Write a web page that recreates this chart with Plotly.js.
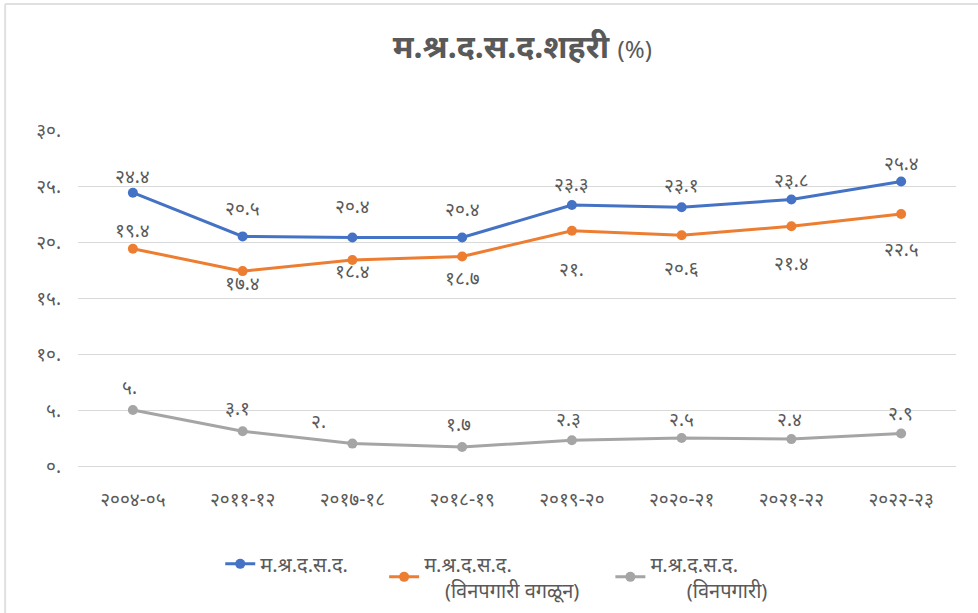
<!DOCTYPE html>
<html>
<head>
<meta charset="utf-8">
<script src="https://cdn.plot.ly/plotly-3.0.1.min.js"></script>
<style>html,body{margin:0;padding:0;background:#fff;}#chart{width:978px;height:613px;}</style>
</head>
<body>
<div id="chart"></div>
<script>
// ---- data ----
var categories = ['२००४-०५','२०११-१२','२०१७-१८','२०१८-१९','२०१९-२०','२०२०-२१','२०२१-२२','२०२२-२३'];
var seriesNames = [
  'म.श्र.द.स.द.',
  'म.श्र.द.स.द.<br>&nbsp;&nbsp;&nbsp;&nbsp;(विनपगारी वगळून)',
  'म.श्र.द.स.द.<br>&nbsp;&nbsp;&nbsp;&nbsp;&nbsp;&nbsp;&nbsp;(विनपगारी)'
];
var lfprTotal = [24.4, 20.5, 20.4, 20.4, 23.3, 23.1, 23.8, 25.4];
var lfprExclUnpaid = [19.4, 17.4, 18.4, 18.7, 21.0, 20.6, 21.4, 22.5];
var lfprUnpaid = [5.0, 3.1, 2.0, 1.7, 2.3, 2.5, 2.4, 2.9];
var yTicks = [0, 5, 10, 15, 20, 25, 30];

// ---- styles ----
var colors = ['#4472C4', '#ED7D31', '#A5A5A5'];
var labelShiftY = [
  [17, 28, 32, 29, 21, 22, 19, 19],
  [19, -12, -11, -21, -38, -33, -37, -35],
  [23, 23, 23, 23, 21, 19, 20, 21]
];
var labelShiftX = [
  [0, 0, 0, 0, 0, 0, 0, 0],
  [0, 0, 0, 0, 0, 0, 0, 0],
  [-3, -5, -34, -4, -3, 0, -2, -1]
];
var legendPad = ['&nbsp;&nbsp;&nbsp;&nbsp;&nbsp;&nbsp;', '&nbsp;&nbsp;&nbsp;&nbsp;&nbsp;', ''];

var devDigits = ['०','१','२','३','४','५','६','७','८','९'];
function toDeva(n) {
  var s = Number.isInteger(n) ? (n + '.') : n.toFixed(1);
  return s.replace(/[0-9]/g, function (d) { return devDigits[+d]; });
}

var allSeries = [lfprTotal, lfprExclUnpaid, lfprUnpaid];
var traces = allSeries.map(function (vals, i) {
  return {
    type: 'scatter', mode: 'lines+markers',
    x: categories, y: vals, name: seriesNames[i] + legendPad[i],
    line: {color: colors[i], width: 3},
    marker: {color: colors[i], size: 10},
    hoverinfo: 'skip'
  };
});

var fam = 'Noto Sans, sans-serif';
var annotations = [];
allSeries.forEach(function (vals, i) {
  vals.forEach(function (v, j) {
    annotations.push({
      xref: 'x', yref: 'y', x: categories[j], y: v,
      text: toDeva(v), showarrow: false,
      yshift: labelShiftY[i][j], xshift: labelShiftX[i][j],
      font: {family: fam, size: 19, color: '#595959'}
    });
  });
});

var layout = {
  width: 978, height: 613,
  margin: {l: 78, r: 22, t: 130, b: 147},
  paper_bgcolor: '#ffffff', plot_bgcolor: '#ffffff',
  font: {family: fam, color: '#595959'},
  showlegend: true,
  title: {
    text: '<b>म.श्र.द.स.द.शहरी</b> <span style="font-size:24px">(%)</span>',
    x: 0.534, xanchor: 'center', y: 0.923, yanchor: 'middle',
    font: {family: fam, size: 32, color: '#595959'}
  },
  xaxis: {
    type: 'category', range: [-0.5, 7.5],
    showgrid: false, zeroline: false, showline: false, ticks: '',
    ticklabelstandoff: 20, automargin: false,
    tickfont: {family: fam, size: 19, color: '#595959'},
    fixedrange: true
  },
  yaxis: {
    range: [0, 30],
    tickvals: yTicks, ticktext: yTicks.map(toDeva),
    showgrid: true, gridcolor: '#D9D9D9', gridwidth: 1,
    zeroline: true, zerolinecolor: '#D9D9D9', zerolinewidth: 1,
    showline: false, ticks: '',
    ticklabelstandoff: 16, automargin: false,
    tickfont: {family: fam, size: 19, color: '#595959'},
    fixedrange: true
  },
  legend: {
    orientation: 'h', x: 0.162, xanchor: 'left',
    yref: 'container', y: 0.112, yanchor: 'top',
    font: {family: fam, size: 20, color: '#595959'},
    traceorder: 'normal', itemwidth: 30
  },
  annotations: annotations,
  shapes: [
    {type: 'line', xref: 'paper', yref: 'paper', x0: -0.083, x1: 1.03, y0: 1.375, y1: 1.375, line: {color: '#E0E0E0', width: 2}},
    {type: 'line', xref: 'paper', yref: 'paper', x0: -0.083, x1: -0.083, y0: 1.375, y1: -0.45, line: {color: '#E0E0E0', width: 2}}
  ]
};

Plotly.newPlot('chart', traces, layout, {displayModeBar: false, staticPlot: true});
</script>
</body>
</html>
